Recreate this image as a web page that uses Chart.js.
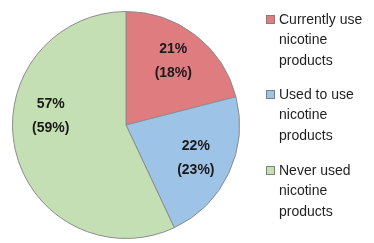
<!DOCTYPE html>
<html>
<head>
<meta charset="utf-8">
<script src="https://cdn.jsdelivr.net/npm/chart.js@4.4.0/dist/chart.umd.min.js"></script>
<style>
  html, body { margin: 0; padding: 0; background: #fff; overflow: hidden; }
  #wrap { width: 374px; height: 243px; position: relative; }
</style>
</head>
<body>
<div id="wrap"><canvas id="pieChart" width="374" height="243"></canvas></div>
<script>
var categories = [
    ['Currently use', 'nicotine', 'products'],
    ['Used to use', 'nicotine', 'products'],
    ['Never used', 'nicotine', 'products']
]
var shares = [21, 22, 57]
var sharesOther = [18, 23, 59]
var colours = ['#DE7C80', '#9DC3E6', '#C5DFB4']

// percent labels inside the slices (small nudge per slice, like excel best fit)
var nudgeY = [-3, 0, -26]
var sliceLabels = {
    id: 'sliceLabels',
    afterDatasetsDraw: function (chart) {
        var ctx = chart.ctx
        var meta = chart.getDatasetMeta(0)
        ctx.save()
        ctx.font = 'bold 14px "Liberation Sans", Arial, sans-serif'
        ctx.fillStyle = '#1a1a1a'
        ctx.textAlign = 'center'
        ctx.textBaseline = 'middle'
        meta.data.forEach(function (arc, i) {
            var p = arc.getProps(['x', 'y', 'startAngle', 'endAngle', 'outerRadius'], true)
            var mid = (p.startAngle + p.endAngle) / 2
            var r = p.outerRadius * 0.68
            var x = p.x + Math.cos(mid) * r
            var y = p.y + Math.sin(mid) * r + nudgeY[i]
            ctx.fillText(shares[i] + '%', x, y - 12)
            ctx.fillText('(' + sharesOther[i] + '%)', x, y + 12)
        })
        ctx.restore()
    }
}

// legend on the right, wrapped over three lines
var sideLegend = {
    id: 'sideLegend',
    afterDraw: function (chart) {
        var ctx = chart.ctx
        ctx.save()
        ctx.font = '14px "Liberation Sans", Arial, sans-serif'
        ctx.textBaseline = 'middle'
        var top = [19, 94, 170]
        categories.forEach(function (lines, i) {
            ctx.fillStyle = colours[i]
            ctx.fillRect(266, top[i] - 4, 9, 9)
            ctx.strokeStyle = '#7f7f7f'
            ctx.lineWidth = 1
            ctx.strokeRect(266.5, top[i] - 3.5, 8, 8)
            ctx.fillStyle = '#1f1f1f'
            lines.forEach(function (t, j) {
                ctx.fillText(t, 279, top[i] + 1 + j * 20.5)
            })
        })
        ctx.restore()
    }
}

var ctxP = document.getElementById('pieChart').getContext('2d')
var myPieChart = new Chart(ctxP, {
    type: 'pie',
    data: {
        labels: categories.map(function (l) { return l.join(' ') }),
        datasets: [
            {
                data: shares,
                backgroundColor: colours,
                borderColor: '#8c8c8c',
                borderWidth: 1
            }
        ]
    },
    options: {
        responsive: false,
        animation: false,
        layout: { padding: { left: 12, right: 134, top: 9, bottom: 2 } },
        plugins: {
            legend: { display: false },
            tooltip: { enabled: false }
        }
    },
    plugins: [sliceLabels, sideLegend]
})
</script>
</body>
</html>
